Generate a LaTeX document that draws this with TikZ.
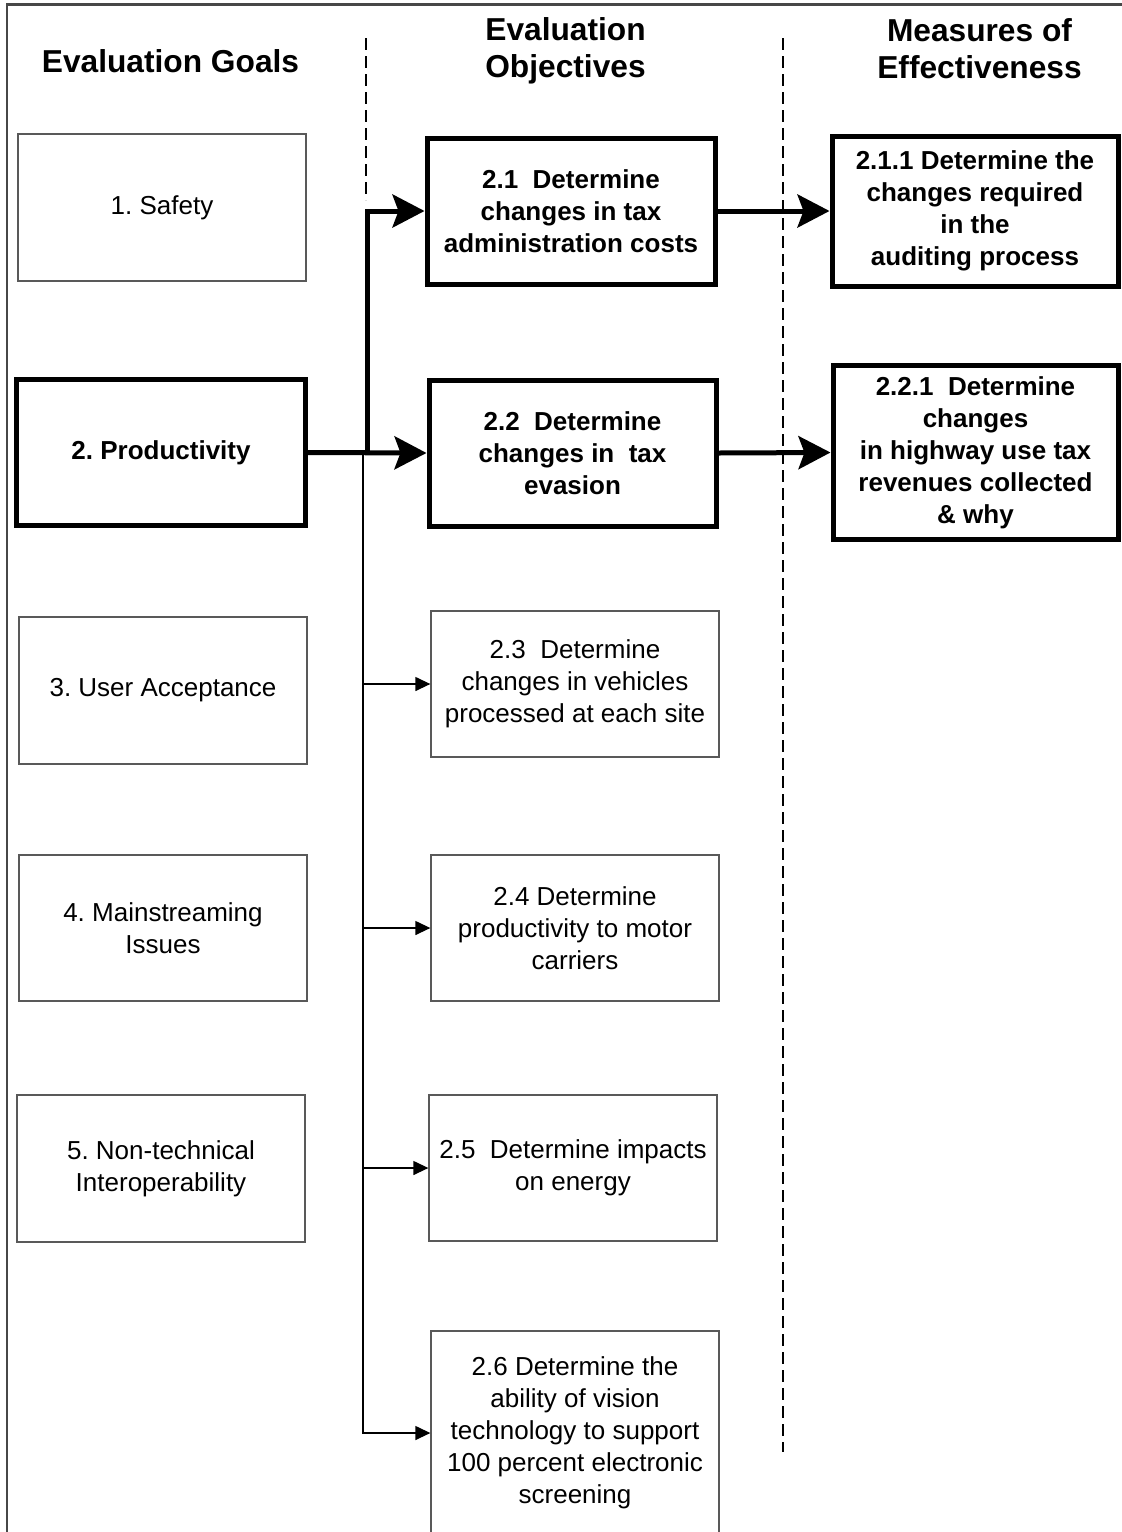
\documentclass[tikz,border=0pt]{standalone}
\usepackage{fontspec}
\setmainfont{Liberation Sans}
\usetikzlibrary{arrows.meta}
\frenchspacing
\newcommand\bodyfont{\fontsize{26}{32}\selectfont}
\newcommand\headfont{\fontsize{31.7}{37}\selectfont\bfseries}
\begin{document}
\begin{tikzpicture}[x=1pt,y=-1pt,
  thinbox/.style={draw=black!65, line width=1.3pt, align=center, inner sep=0pt,
    font=\bodyfont, minimum width=288pt, minimum height=147pt},
  thickbox/.style={draw=black, line width=5pt, align=center, inner sep=0pt,
    font=\bodyfont\bfseries, minimum width=288pt, minimum height=146pt},
  heading/.style={align=center, inner sep=0pt, font=\headfont},
  thickarr/.style={draw=black, line width=5pt, -{Stealth[length=32pt,width=33pt,inset=6pt]}},
  thinarr/.style={draw=black, line width=1.3pt, -{Triangle[length=15pt,width=14pt]}},
  divider/.style={draw=black, line width=1.3pt, dash pattern=on 12pt off 6pt},
  frame/.style={draw=black!72, line width=2.5pt}]
\useasboundingbox (0,0) rectangle (1122,1532);

% frame
\coordinate (fa) at (7,1532);
\coordinate (fb) at (7,4.7);
\coordinate (fc) at (1122,4.7);
\draw[frame] (fa) -- (fb) -- (fc);

% headings
\node[heading, anchor=base] (h1) at (170.5,72) {Evaluation Goals};
\node[heading] (h2) at (565.5,50.5) {Evaluation\\Objectives};
\node[heading] (h3) at (979.5,48.5) {Measures of\\Effectiveness};

% dividers
\coordinate (d1a) at (366,38);
\coordinate (d1b) at (366,200);
\coordinate (d2a) at (783,38);
\coordinate (d2b) at (783,1452);
\draw[divider] (d1a) -- (d1b);
\draw[divider] (d2a) -- (d2b);

% goals
\node[thinbox] (g1) at (162,207.5) {1. Safety};
\node[thickbox, minimum width=289pt] (g2) at (161,452.5) {2. Productivity};
\node[thinbox] (g3) at (163,690.5) {3. User Acceptance};
\node[thinbox, minimum height=146pt] (g4) at (163,928) {4. Mainstreaming\\Issues};
\node[thinbox] (g5) at (161,1168.5) {5. Non-technical\\Interoperability};

% objectives
\node[thickbox] (o1) at (571,211) {2.1\ \ Determine\\changes in tax\\administration costs};
\node[thickbox, minimum width=287pt] (o2) at (572.5,453) {2.2\ \ Determine\\changes in\ \ tax\\evasion};
\node[thinbox, minimum height=146pt] (o3) at (575,684) {2.3\ \ Determine\\changes in vehicles\\processed at each site};
\node[thinbox, minimum height=146pt] (o4) at (575,928) {2.4 Determine\\productivity to motor\\carriers};
\node[thinbox, minimum height=146pt] (o5) at (573,1168) {2.5\ \ Determine impacts\\on energy};
\node[thinbox, minimum height=204pt] (o6) at (575,1433) {2.6 Determine the\\ability of vision\\technology to support\\100 percent electronic\\screening};

% measures
\node[thickbox, minimum width=286pt, minimum height=150pt] (m1) at (975,211) {2.1.1 Determine the\\changes required\\in the\\auditing process};
\node[thickbox, minimum width=285pt, minimum height=174pt] (m2) at (975.5,452.5) {2.2.1\ \ Determine\\changes\\in highway use tax\\revenues collected\\\& why};

% connectors
\coordinate (j) at (367,452.5);
\coordinate (t) at (363,452.5);
\draw[thickarr] (g2.east) -- (o2.west);
\draw[thickarr] (j) |- (o1.west);
\draw[thinarr] (t) |- (o3.west);
\draw[thinarr] (t) |- (o4.west);
\draw[thinarr] (t) |- (o5.west);
\draw[thinarr] (t) |- (o6.west);
\draw[thickarr] (o1.east) -- (m1.west);
\draw[thickarr] (o2.east) -- (m2.west);
\end{tikzpicture}
\end{document}
